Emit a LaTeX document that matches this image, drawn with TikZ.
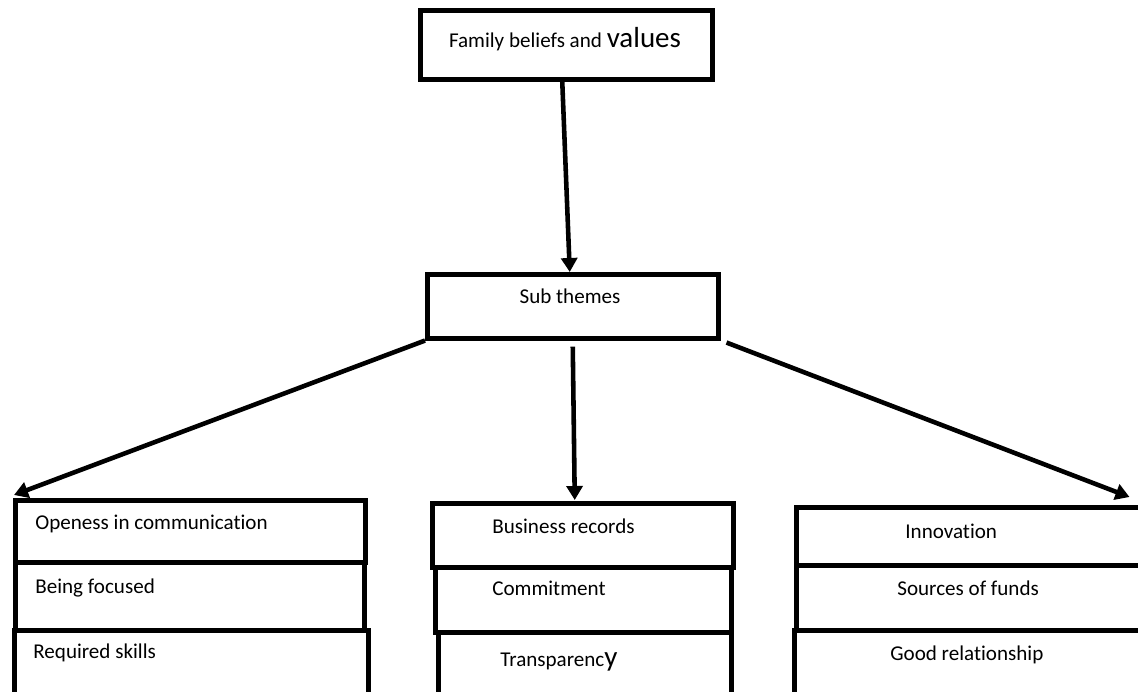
\documentclass[tikz,border=0pt]{standalone}
\usepackage{fontspec}
\setmainfont[Ligatures=NoCommon]{Carlito}
\usetikzlibrary{arrows.meta, positioning}

\begin{document}
\begin{tikzpicture}[
    x=0.02cm, y=-0.02cm,
    cell/.style={rectangle, draw, line width=2.6pt, anchor=north west, inner sep=0pt},
    lbl/.style={anchor=base west, inner sep=0pt, font=\fontsize{12}{14}\selectfont},
    arrow/.style={-{Triangle[length=2.8mm, width=3.2mm]}, line width=2.6pt}
]
\useasboundingbox (0,0) rectangle (1138,692);
\clip (0,0) rectangle (1138,692);

% Top levels
\node[cell, minimum width=5.84cm, minimum height=1.38cm] (fam) at (418,8) {};
\node[cell, minimum width=5.82cm, minimum height=1.28cm] (sub) at (425,272) {};
\node[lbl, anchor=base] (famtxt) at (565,48) {Family beliefs and {\fontsize{16.5}{18}\selectfont values}};
\node[lbl, anchor=base] (subtxt) at (570,303) {Sub themes};

% Left column
\node[cell, minimum width=7cm, minimum height=1.24cm] (open) at (13,498) {};
\node[cell, minimum width=6.98cm, minimum height=1.36cm] (focus) at (13,560) {};
\node[cell, minimum width=7.08cm, minimum height=1.5cm] (skills) at (12,628) {};
\node[lbl] (opentxt) at (35,529) {Openess in communication};
\node[lbl] (focustxt) at (35,593) {Being focused};
\node[lbl] (skillstxt) at (33,658) {Required skills};

% Middle column
\node[cell, minimum width=6.02cm, minimum height=1.28cm] (bus) at (430,501) {};
\node[cell, minimum width=5.92cm, minimum height=1.3cm] (commit) at (433,565) {};
\node[cell, minimum width=5.86cm, minimum height=1.5cm] (trans) at (436,630) {};
\node[lbl] (bustxt) at (492,533) {Business records};
\node[lbl] (committxt) at (492,595) {Commitment};
\node[lbl] (transtxt) at (500,666) {Transparenc{\fontsize{16.5}{18}\selectfont y}};

% Right column
\node[cell, minimum width=7.02cm, minimum height=1.16cm] (innov) at (794,505) {};
\node[cell, minimum width=7.02cm, minimum height=1.3cm] (funds) at (794,563) {};
\node[cell, minimum width=7.06cm, minimum height=1.5cm] (relat) at (792,628) {};
\node[lbl] (innovtxt) at (905,538) {Innovation};
\node[lbl] (fundstxt) at (897,595) {Sources of funds};
\node[lbl] (relattxt) at (890,660) {Good relationship};

% Connections
\draw[arrow] ([shift={(-4,0)}]fam.south) -- ([shift={(-3,0)}]sub.north);
\draw[arrow] (sub.south west) -- ([shift={(1,-3)}]open.north west);
\draw[arrow] ([shift={(0,6)}]sub.south) -- ([shift={(-8,-1)}]bus.north);
\draw[arrow] ([shift={(6,2)}]sub.south east) -- ([shift={(-20,-8)}]innov.north east);

\end{tikzpicture}
\end{document}
